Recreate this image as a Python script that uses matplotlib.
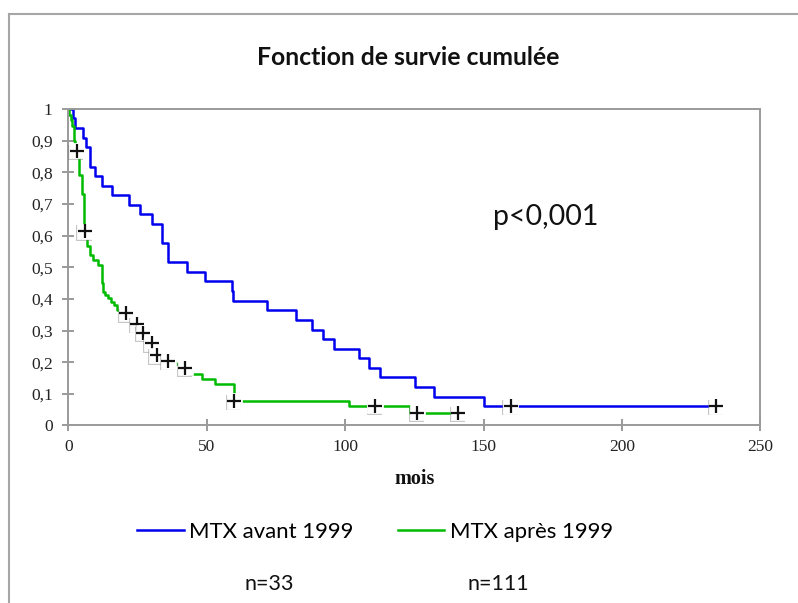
import numpy as np
import matplotlib
matplotlib.use('Agg')
import matplotlib.pyplot as plt
from matplotlib.lines import Line2D
from matplotlib.ticker import FuncFormatter
import matplotlib.patheffects as pe

# Kaplan-Meier steps: time (mois) of each drop and survival after it
blue_t = [1.8, 2.4, 5.2, 6.5, 7.8, 9.6, 12.0, 15.7, 22.0, 25.9, 30.1, 33.7, 36.1,
          43.0, 49.4, 59.0, 59.6, 71.7, 82.3, 87.9, 92.1, 96.0, 105.1, 108.7,
          112.4, 125.3, 131.9, 150.2]
blue_s = [0.970, 0.939, 0.909, 0.879, 0.818, 0.788, 0.758, 0.727, 0.697, 0.667,
          0.636, 0.576, 0.515, 0.485, 0.455, 0.424, 0.394, 0.364, 0.333, 0.303,
          0.273, 0.242, 0.212, 0.182, 0.152, 0.121, 0.091, 0.061]
blue_cens = [159.8, 234.0]
blue_end = 234.0

green_t = [0.3, 0.8, 1.5, 2.1, 2.5, 4.0, 4.9, 5.8, 6.9, 7.8, 9.0, 10.8, 12.0, 12.6,
           13.3, 14.5, 15.4, 16.5, 17.7, 18.7, 22.0, 23.5, 26.2, 28.5, 29.5, 31.2,
           33.5, 35.0, 38.5, 40.5, 43.5, 48.2, 53.0, 59.8, 101.2, 123.4]
green_s = [0.982, 0.964, 0.946, 0.900, 0.868, 0.790, 0.730, 0.613, 0.566, 0.540,
           0.524, 0.508, 0.450, 0.423, 0.413, 0.402, 0.391, 0.381, 0.365, 0.354,
           0.340, 0.320, 0.293, 0.275, 0.259, 0.222, 0.212, 0.204, 0.193, 0.183,
           0.162, 0.148, 0.132, 0.077, 0.0625, 0.040]
green_cens = [3.0, 6.0, 20.9, 24.9, 27.1, 30.1, 31.9, 36.1, 42.2, 60.0, 110.8,
              126.1, 140.9]
green_end = 140.9

labels = ['MTX avant 1999', 'MTX après 1999']
counts = ['n=33', 'n=111']
colors = ['#0000ee', '#00bb00']

SANS = 'Lato'
SERIF = 'Liberation Serif'


def step_xy(t, s, t_end):
    x = np.concatenate([[0], t, [t_end]])
    y = np.concatenate([[1.0], s, [s[-1]]])
    return x, y


def surv_at(t, s, when):
    idx = np.searchsorted(t, when, side='right')
    return 1.0 if idx == 0 else s[idx - 1]


def fmt_y(v, pos):
    v = round(v, 1)
    if v == 0 or v == 1:
        return '%d' % v
    return ('%.1f' % v).replace('.', ',')


fig = plt.figure(figsize=(7.98, 6.03), dpi=100)
ax = fig.add_axes([0.0856, 0.2944, 0.8674, 0.5249])

series = [(blue_t, blue_s, blue_end, blue_cens), (green_t, green_s, green_end, green_cens)]
for (t, s, t_end, cens), lab, col in zip(series, labels, colors):
    x, y = step_xy(t, s, t_end)
    ax.plot(x, y, drawstyle='steps-post', color=col, lw=1.8, label=lab, zorder=2)

# censored observations: white box with a soft shadow, then a black cross
shadow = [pe.SimplePatchShadow(offset=(-0.6, -1.2), shadow_rgbFace='#7a7a7a', alpha=0.42),
          pe.Normal()]
for (t, s, t_end, cens) in series:
    for c in cens:
        v = surv_at(t, s, c)
        ax.plot([c], [v], ls='none', marker='s', ms=11, mfc='white', mec='white',
                mew=0.5, path_effects=shadow, zorder=3)
        ax.plot([c], [v], ls='none', marker='+', ms=10, mew=1.6, color='#111111',
                zorder=3)

ax.set_xlim(0, 250)
ax.set_ylim(0, 1)
ax.set_xticks(np.arange(0, 251, 50))
ax.set_yticks(np.arange(0, 1.01, 0.1))
ax.yaxis.set_major_formatter(FuncFormatter(fmt_y))

for sp in ax.spines.values():
    sp.set_color('#9a9a9a')
    sp.set_linewidth(1.4)

ax.tick_params(axis='y', direction='inout', length=8.5, width=1.4, color='#9a9a9a',
               pad=7, labelsize=12.5, labelcolor='#222222')
ax.tick_params(axis='x', direction='inout', length=8, width=1.4, color='#9a9a9a',
               pad=6, labelsize=12.5, labelcolor='#222222')
for lbl in ax.get_xticklabels() + ax.get_yticklabels():
    lbl.set_fontfamily(SERIF)

ax.set_xlabel('mois', fontfamily=SERIF, fontweight='bold', fontsize=14.5,
              labelpad=10, color='#111111')

fig.text(0.511, 0.905, 'Fonction de survie cumulée', ha='center', va='center',
         fontfamily=SANS, fontweight='bold', fontsize=17.8, color='#111111')
ax.text(0.614, 0.66, 'p<0,001', transform=ax.transAxes, ha='left', va='center',
        fontfamily=SANS, fontsize=20.5, color='#111111')

fig.legend(loc='center', bbox_to_anchor=(0.47, 0.1177), ncol=2, frameon=False,
           prop={'family': SANS, 'size': 15.9}, handlelength=2.1, handletextpad=0.25,
           columnspacing=2.0)
fig.text(0.337, 0.031, counts[0], ha='center', va='center', fontfamily=SANS,
         fontsize=15.5, color='#111111')
fig.text(0.625, 0.031, counts[1], ha='center', va='center', fontfamily=SANS,
         fontsize=15.5, color='#111111')

# chart-area border, left and top edges
fx0, fy0 = 8.5 / 798, 1 - 13.5 / 603
fig.add_artist(Line2D([fx0, fx0], [0, fy0], color='#a6a6a6', lw=1.5))
fig.add_artist(Line2D([fx0, 1], [fy0, fy0], color='#a6a6a6', lw=1.5))

fig.savefig('out.png', dpi=100)
